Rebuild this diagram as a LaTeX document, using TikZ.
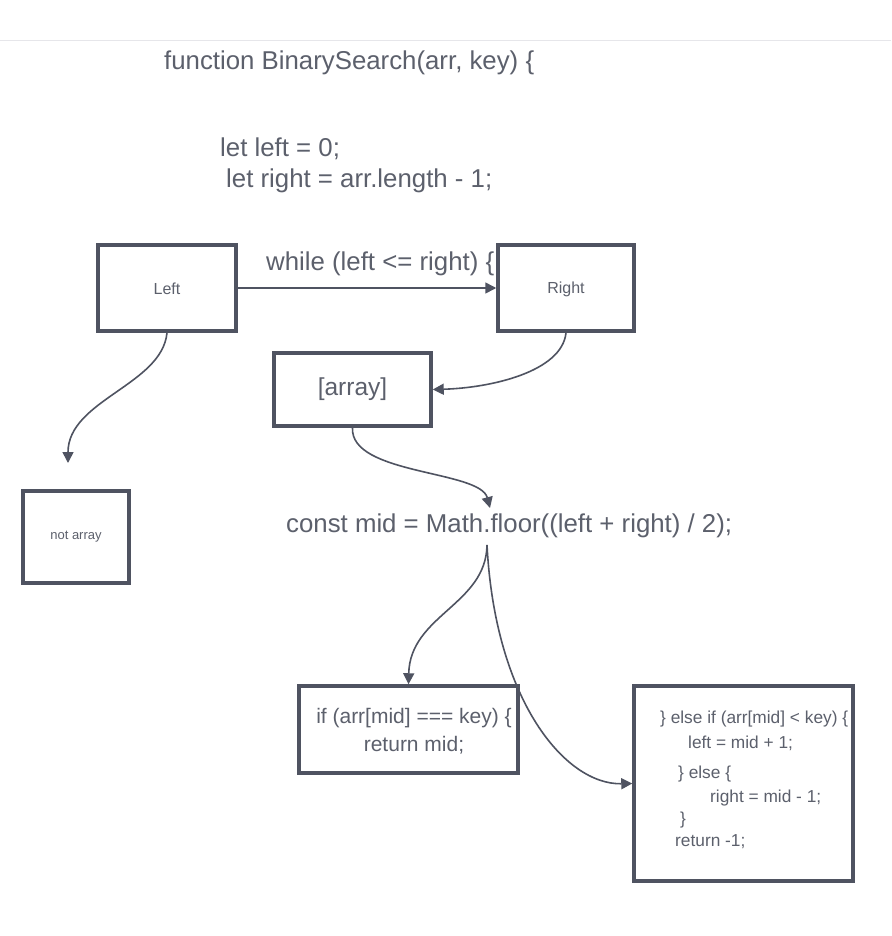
\documentclass[tikz,border=0pt]{standalone}
\usepackage{fontspec}
\setmainfont{Liberation Sans}
\usetikzlibrary{arrows.meta}
\definecolor{boxc}{HTML}{4F5361}
\definecolor{txtc}{HTML}{5C606C}
\definecolor{rulec}{HTML}{E6E6EA}
\tikzset{
  box/.style={draw=boxc, line width=3.5pt, fill=white, inner sep=0pt},
  big/.style={text=txtc, font=\fontsize{25.8}{30}\selectfont, inner sep=0pt, anchor=west},
  mid/.style={text=txtc, font=\fontsize{21}{25}\selectfont, inner sep=0pt},
  sml/.style={text=txtc, font=\fontsize{17.3}{21}\selectfont, inner sep=0pt, anchor=west},
  conn/.style={draw=boxc, line width=1.6pt, -{Triangle[length=11pt,width=11pt]}}
}
\begin{document}
\begin{tikzpicture}[x=1pt,y=-1pt]
\useasboundingbox (0,0) rectangle (891,936);
\fill[white] (0,0) rectangle (891,936);
\draw[rulec, line width=1pt] (0,41) -- (891,41);

% text lines
\node[big] (fn) at (164,63) {function BinarySearch(arr, key) \{};
\node[big] (ll) at (220,149) {let left = 0;};
\node[big] (lr) at (226,181) {let right = arr.length - 1;};
\node[big] (wh) at (266,264) {while (left <= right) \{};
\node[big] (cm) at (286,526) {const mid = Math.floor((left + right) / 2);};

% boxes
\node[box, minimum width=138pt, minimum height=86pt] (L) at (167,288) {};
\node[text=txtc, font=\fontsize{16}{20}\selectfont] at ([yshift=-1pt]L.center) {Left};
\node[box, minimum width=136pt, minimum height=86pt] (R) at (566,288) {};
\node[text=txtc, font=\fontsize{16}{20}\selectfont] at ([yshift=-1pt]R.center) {Right};
\node[box, minimum width=157pt, minimum height=73pt] (A) at (352.5,389.5) {};
\node[text=txtc, font=\fontsize{24.5}{28}\selectfont] at (A) {[array]};
\node[box, minimum width=106pt, minimum height=92pt] (N) at (76,537) {};
\node[text=txtc, font=\fontsize{13}{16}\selectfont] at (N) {not array};
\node[box, minimum width=219pt, minimum height=87pt] (I) at (408.5,729.5) {};
\node[mid] at (414,718) {if (arr[mid] === key) \{};
\node[mid] at (414,745) {return mid;};
\node[box, minimum width=219pt, minimum height=195pt] (E) at (743.5,783.5) {};
\node[sml] at (660,719) {\} else if (arr[mid] < key) \{};
\node[sml] at (688,743) {left = mid + 1;};
\node[sml] at (678,774) {\} else \{};
\node[sml] at (710,798) {right = mid - 1;};
\node[sml] at (680,820) {\}};
\node[sml] at (675,842) {return -1;};

% free ends
\coordinate (naTop) at (68,463);
\coordinate (cmTop) at (490,508);
\coordinate (cmBot) at (487,545);

% connectors
\draw[conn] (L.east) -- (R.west);
\draw[conn] (L.south) .. controls (162,385) and (68,400) .. (naTop);
\draw[conn] (R.south) .. controls (562,372) and (490,388) .. (A.east);
\draw[conn] (A.south) .. controls (350,475) and (480,470) .. (cmTop);
\draw[conn] (cmBot) .. controls (486,605) and (410,615) .. (I.north);
\draw[conn] (cmBot) .. controls (495,700) and (565,785) .. (E.west);
\end{tikzpicture}
\end{document}
